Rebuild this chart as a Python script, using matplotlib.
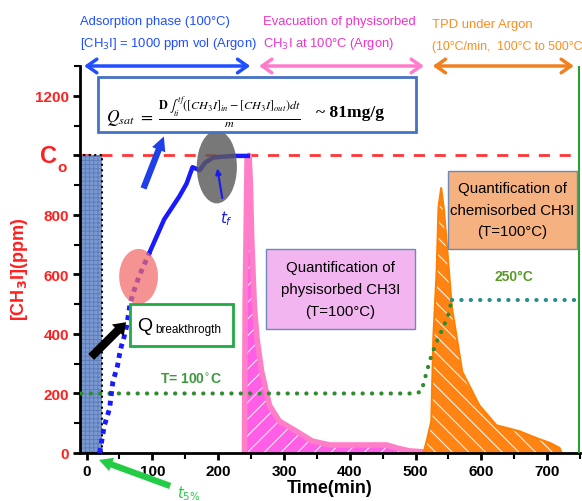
import matplotlib
matplotlib.use('Agg')
import matplotlib.pyplot as plt
from matplotlib.patches import Rectangle, Ellipse, FancyArrowPatch
from matplotlib.ticker import MultipleLocator

# ---------------- data ----------------
# breakthrough curve (adsorption phase), lower dotted part and upper part
bt_low_t = [20, 23, 27, 31, 35, 40, 44, 47, 50, 53, 57, 61, 66, 72, 80, 88, 96]
bt_low_c = [0, 40, 93, 120, 150, 240, 270, 293, 330, 360, 390, 427, 500, 545, 595, 635, 675]
bt_up_t = [96, 107, 118, 130, 141, 152, 161, 172, 180, 192, 205, 225, 245]
bt_up_c = [675, 730, 785, 825, 862, 905, 960, 950, 975, 992, 995, 998, 998]

# desorption of physisorbed CH3I
phys_t = [240, 241, 244, 247, 249, 251, 255, 259, 266, 278, 293, 319, 343, 370, 420, 456, 475, 491, 512]
phys_c = [0, 500, 990, 1000, 900, 720, 495, 385, 275, 160, 107, 73, 40, 27, 27, 27, 15, 7, 4]

# TPD peak (chemisorbed CH3I)
tpd_t = [512, 517, 524, 527, 532, 535, 539, 543, 547, 555, 571, 597, 623, 658, 684, 705, 719, 722]
tpd_c = [0, 40, 107, 385, 607, 827, 890, 820, 717, 493, 273, 160, 93, 73, 50, 33, 17, 0]

# temperature profile (scaled onto ppm axis)
temp_t = [-8, 500, 509, 517, 524, 532, 541, 549, 555]
temp_c = [200, 200, 207, 273, 327, 373, 417, 457, 513]
temp_hi_t = [555, 750]
temp_hi_c = [513, 513]

C0 = 1000
x_ticks = [0, 100, 200, 300, 400, 500, 600, 700]
y_ticks = [0, 200, 400, 600, 800, 1000, 1200]
y_tick_labels = ['0', '200', '400', '600', '800', '', '1200']

SANS = ['Liberation Sans', 'DejaVu Sans']
plt.rcParams['font.family'] = SANS
plt.rcParams['hatch.linewidth'] = 0.7

W, H = 582, 502
fig = plt.figure(figsize=(W / 100, H / 100), dpi=100)
ax = fig.add_axes([80 / W, 48 / H, 500 / W, 387 / H])
ax.set_xlim(-10, 750)
ax.set_ylim(0, 1300)


def fx(px):
    return px / W


def fy(py):
    return 1 - py / H


for s in ['top', 'right']:
    ax.spines[s].set_visible(False)
for s in ['left', 'bottom']:
    ax.spines[s].set_linewidth(2)
    ax.spines[s].set_color('black')

ax.set_xticks(x_ticks)
ax.set_xticklabels([str(v) for v in x_ticks], fontsize=11, fontweight='bold')
ax.set_yticks(y_ticks)
ax.set_yticklabels(y_tick_labels, fontsize=11, fontweight='bold', color='#ff2020')
ax.xaxis.set_minor_locator(MultipleLocator(50))
ax.yaxis.set_minor_locator(MultipleLocator(100))
ax.tick_params(which='major', direction='out', length=5, width=2, pad=3)
ax.tick_params(which='minor', direction='out', length=4, width=1.5)

ax.set_xlabel('Time(min)', fontsize=13, fontweight='bold', labelpad=1)
fig.text(fx(20), fy(269), '[CH$_\\mathbf{3}$I](ppm)', rotation=90, ha='center', va='center',
         fontsize=13, fontweight='bold', color='#ff2020')
fig.text(fx(57), fy(157), 'C', ha='right', va='center', fontsize=17, fontweight='bold', color='#ff2020')
fig.text(fx(57), fy(168), 'o', ha='left', va='center', fontsize=11, fontweight='bold', color='#ff2020')

# hatched feed block
ax.add_patch(Rectangle((-10, 0), 33, C0, facecolor='#7c9ad0', edgecolor='#5e7cb8', hatch='++++',
                       lw=0, zorder=2))
ax.add_patch(Rectangle((-10, 0), 33, C0, facecolor='none', edgecolor='black', ls=':', lw=1.5, zorder=2.1))

# C0 line
ax.axhline(C0, color='#ff3535', lw=2, ls=(0, (4, 3.5)), zorder=1.5)

# right green line
ax.axvline(749, color='#2ca02c', lw=2.2, zorder=3)

# physisorbed peak
ax.fill_between(phys_t, phys_c, 0, facecolor='#ff5ee6', edgecolor='white', hatch='//', lw=0, zorder=2)
ax.plot(phys_t, phys_c, color='#ff7ec8', lw=4, zorder=2.5, solid_capstyle='butt')

# TPD peak
ax.fill_between(tpd_t, tpd_c, 0, facecolor='#ff8414', edgecolor='white', hatch='\\\\', lw=0, zorder=2)
ax.plot(tpd_t, tpd_c, color='#ff8000', lw=1.5, zorder=2.5)

# temperature lines
ax.plot(temp_t, temp_c, color='#2e8b2e', lw=3, ls=(0, (0.05, 2.2)), dash_capstyle='round', zorder=3)
ax.plot(temp_hi_t, temp_hi_c, color='#2b8c8c', lw=3, ls=(0, (0.05, 2.2)), dash_capstyle='round', zorder=3)

# breakthrough curve
ax.plot(bt_low_t, bt_low_c, color='#1a1aff', lw=3.5, ls=(0, (1, 1)), zorder=3)
ax.plot(bt_up_t, bt_up_c, color='#1a1aff', lw=3.2, zorder=3)

# ellipses
ax.add_patch(Ellipse((79, 593), 59, 185, facecolor='#f26a6a', alpha=0.72, lw=0, zorder=3.5))
ax.add_patch(Ellipse((198, 961), 61, 245, facecolor='#5a5a5a', alpha=0.82, lw=0, zorder=3.5))

# tf label and arrow
ax.add_patch(FancyArrowPatch((207, 847), (198, 965), arrowstyle='-|>', mutation_scale=8,
                             color='#1a1aee', lw=1.5, zorder=4))
ax.text(213, 790, '$t_f$', color='#1a1aee', fontsize=11, ha='center', va='center', zorder=4)

# formula box
ax.add_patch(Rectangle((17.5, 1079), 482.5, 185, facecolor='white', edgecolor='#4472c4', lw=2, zorder=4))
fig.text(fx(106), fy(112),
         r'$Q_{sat}\ =\ \frac{\mathbf{D}\,\int_{ti}^{tf}([CH_3I]_{in}-[CH_3I]_{out})dt}{m}$',
         math_fontfamily='stix', fontsize=12.5, ha='left', va='center', zorder=5)
fig.text(fx(316), fy(113), '~ 81mg/g', family=['Liberation Serif', 'DejaVu Serif'], fontweight='bold',
         fontsize=12.5, ha='left', va='center', zorder=5)

# thick arrows
ax.add_patch(FancyArrowPatch((85, 880), (119, 1072),
                             arrowstyle='simple,tail_width=0.38,head_width=0.85,head_length=0.85',
                             mutation_scale=12, color='#1f3fe8', lw=0, zorder=4))
ax.add_patch(FancyArrowPatch((4, 316), (63, 446),
                             arrowstyle='simple,tail_width=0.5,head_width=1.0,head_length=0.7',
                             mutation_scale=12, color='black', lw=0, zorder=4))
ax.add_patch(FancyArrowPatch((131, -114), (15, -20),
                             arrowstyle='simple,tail_width=0.38,head_width=0.85,head_length=0.8',
                             mutation_scale=12, color='#22cc44', lw=0, zorder=4, clip_on=False))
fig.text(fx(177), fy(484), '$t_{5\\%}$', color='#22cc44', fontsize=10.5, ha='left', va='top')

# Q breakthrough box
ax.add_patch(Rectangle((66, 360), 157, 141, facecolor='white', edgecolor='#22aa44', lw=2, zorder=4))
ax.text(77, 427, 'Q', fontsize=14, ha='left', va='center', zorder=5)
ax.text(104, 418, 'breakthrogth', fontsize=8.5, ha='left', va='center', zorder=5)

# T labels
ax.text(158, 250, 'T= 100$^{\\circ}$C', color='#3a9a3a', fontsize=10, fontweight='bold',
        ha='center', va='center', zorder=5)
ax.text(650, 595, '250\u00b0C', color='#5a9a2a', fontsize=10, fontweight='bold',
        ha='center', va='center', zorder=5)

# quantification boxes
ax.add_patch(Rectangle((273, 417), 226, 269, facecolor='#f3b5f0', edgecolor='#6a8ab8', lw=1, zorder=4))
ax.text(386, 551, 'Quantification of\nphysisorbed CH3I\n(T=100\u00b0C)', fontsize=10.8, ha='center',
        va='center', linespacing=1.7, zorder=5)
ax.add_patch(Rectangle((549, 686), 196, 262, facecolor='#f5b180', edgecolor='#6a8ab8', lw=1, zorder=4))
ax.text(647, 817, 'Quantification of\nchemisorbed CH3I\n(T=100\u00b0C)', fontsize=10.8, ha='center',
        va='center', linespacing=1.7, zorder=5)

# phase arrows on top
for (a, b, col) in [(-8, 253, '#1f4fff'), (258, 517, '#ff7ccc'), (522, 745, '#f08020')]:
    ax.add_patch(FancyArrowPatch((a, 1300), (b, 1300), arrowstyle='<->,head_length=0.5,head_width=0.35',
                                 mutation_scale=14, color=col, lw=2.5, clip_on=False, zorder=6))

# phase texts
TOP = 9.4
fig.text(fx(80), fy(22), 'Adsorption phase (100\u00b0C)', color='#1f4fff', fontsize=TOP,
         ha='left', va='center')
fig.text(fx(80), fy(44), '[CH$_3$I] = 1000 ppm vol (Argon)', color='#1f4fff', fontsize=TOP,
         ha='left', va='center')
fig.text(fx(263), fy(22), 'Evacuation of physisorbed', color='#ee33cc', fontsize=TOP,
         ha='left', va='center')
fig.text(fx(263), fy(44), 'CH$_3$I at 100\u00b0C (Argon)', color='#ee33cc', fontsize=TOP,
         ha='left', va='center')
fig.text(fx(432), fy(25), 'TPD under Argon', color='#ff8c1a', fontsize=TOP,
         ha='left', va='center')
fig.text(fx(432), fy(47), '(10\u00b0C/min,  100\u00b0C to 500\u00b0C', color='#ff8c1a', fontsize=8.8,
         ha='left', va='center')

fig.savefig('out.png', dpi=100)
